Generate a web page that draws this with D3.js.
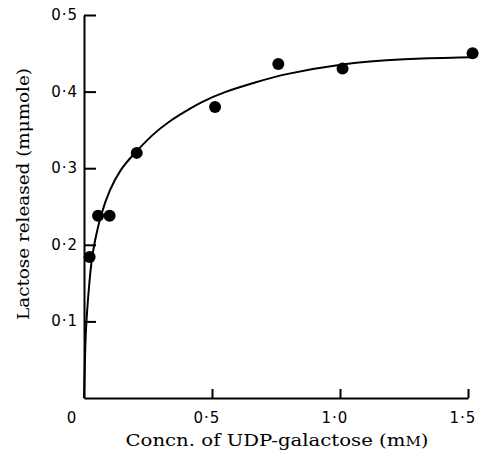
<!DOCTYPE html>
<html>
<head>
<meta charset="utf-8">
<script src="https://cdn.jsdelivr.net/npm/d3@7"></script>
<style>
  body { margin: 0; background: #fff; }
  .tick-label { font-family: "DejaVu Sans", sans-serif; font-size: 15px; letter-spacing: 1px; fill: #000; }
  .axis-title { font-family: "DejaVu Serif", serif; font-size: 17px; fill: #000; }
</style>
</head>
<body>
<svg id="chart" width="483" height="459"></svg>
<script>
// measured points: UDP-galactose (mM) vs lactose released
var concn = [0.022, 0.055, 0.10, 0.206, 0.512, 0.759, 1.01, 1.518];
var lactose = [0.184, 0.238, 0.238, 0.32, 0.38, 0.436, 0.43, 0.45];

// fitted curve
var curveX = [0, 0.005, 0.009, 0.018, 0.029, 0.042, 0.066, 0.10, 0.141, 0.19, 0.27, 0.336, 0.40, 0.45, 0.54, 0.68, 0.77, 0.99, 1.25, 1.51];
var curveY = [0, 0.07, 0.10, 0.14, 0.18, 0.205, 0.24, 0.272, 0.298, 0.317, 0.345, 0.362, 0.375, 0.385, 0.399, 0.413, 0.422, 0.436, 0.443, 0.445];

var xTicks = [0.5, 1.0, 1.5];
var xTickLabels = ["0·5", "1·0", "1·5"];
var yTicks = [0.1, 0.2, 0.3, 0.4, 0.5];
var yTickLabels = ["0·1", "0·2", "0·3", "0·4", "0·5"];

var svg = d3.select("#chart");

var x = d3.scaleLinear().domain([0, 1.5]).range([84, 468]);
var y = d3.scaleLinear().domain([0, 0.5]).range([398, 15]);

// axes (ticks point inward, like the printed figure)
var xAxis = d3.axisTop(x).tickValues(xTicks).tickSize(9).tickFormat("").tickSizeOuter(0);
var yAxis = d3.axisRight(y).tickValues(yTicks).tickSize(12).tickFormat("").tickSizeOuter(0);

var gx = svg.append("g").attr("transform", "translate(0,398)").call(xAxis);
var gy = svg.append("g").attr("transform", "translate(84,0)").call(yAxis);
[gx, gy].forEach(function(g){
	g.select(".domain").attr("stroke", "#000").attr("stroke-width", 2);
	g.selectAll(".tick line").attr("stroke", "#000").attr("stroke-width", 2);
});

// tick labels
svg.selectAll(".xlab")
	.data(xTicks)
.enter().append("text")
	.attr("class", "tick-label")
	.attr("x", function(d){ return x(d) - 5; })
	.attr("y", 423)
	.attr("text-anchor", "middle")
	.text(function(d,i){ return xTickLabels[i]; });

svg.selectAll(".ylab")
	.data(yTicks)
.enter().append("text")
	.attr("class", "tick-label")
	.attr("x", 78)
	.attr("y", function(d){ return y(d) + 5; })
	.attr("text-anchor", "end")
	.text(function(d,i){ return yTickLabels[i]; });

svg.append("text")
	.attr("class", "tick-label")
	.attr("x", 72)
	.attr("y", 423)
	.attr("text-anchor", "middle")
	.text("0");

// curve
var line = d3.line()
	.x(function(d){ return x(d[0]); })
	.y(function(d){ return y(d[1]); })
	.curve(d3.curveBasis);

svg.append("path")
	.datum(d3.zip(curveX, curveY))
	.attr("d", line)
	.attr("fill", "none")
	.attr("stroke", "#000")
	.attr("stroke-width", 2);

// dots
svg.selectAll(".dot")
	.data(d3.zip(concn, lactose))
.enter().append("circle")
	.attr("class", "dot")
	.attr("cx", function(d){ return x(d[0]); })
	.attr("cy", function(d){ return y(d[1]); })
	.attr("r", 6)
	.style("fill", "#000");

// axis titles
var xt = svg.append("text")
	.attr("class", "axis-title")
	.attr("x", 277)
	.attr("y", 446)
	.attr("text-anchor", "middle")
	.attr("textLength", 303)
	.attr("lengthAdjust", "spacingAndGlyphs");
xt.append("tspan").text("Concn. of UDP-galactose (m");
xt.append("tspan").style("font-size", "13px").text("M");
xt.append("tspan").text(")");

svg.append("text")
	.attr("class", "axis-title")
	.attr("transform", "translate(29,194) rotate(-90)")
	.attr("text-anchor", "middle")
	.attr("textLength", 252)
	.attr("lengthAdjust", "spacingAndGlyphs")
	.text("Lactose released (mμmole)");
</script>
</body>
</html>
